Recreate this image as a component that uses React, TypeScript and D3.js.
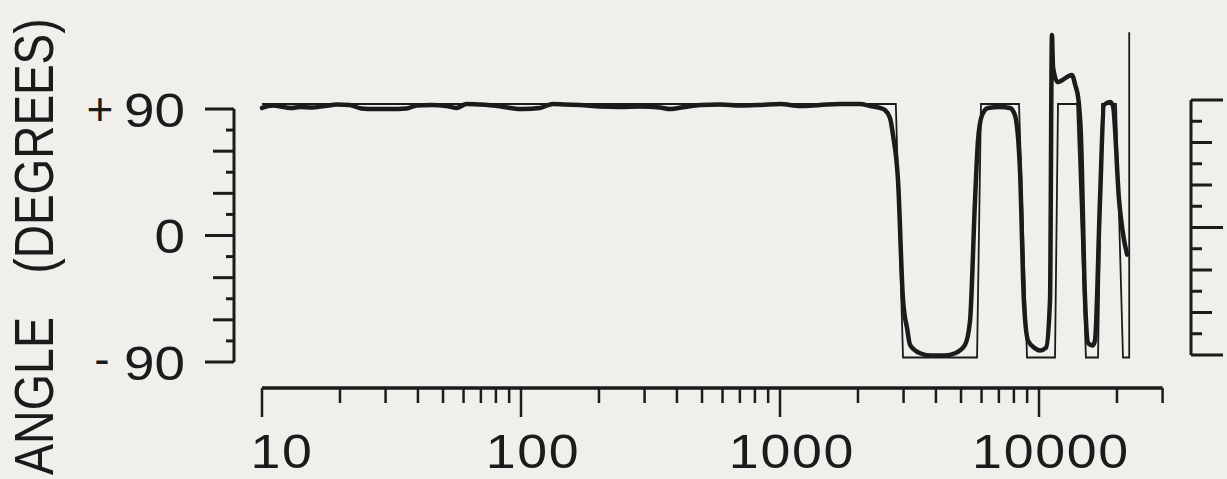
import React, { useEffect, useRef } from "react";
import * as d3 from "d3";

// measured phase response (frequency Hz, angle deg)
const measured: [number, number][] = [
  [10, 87.2], [11, 89], [13, 87.2], [14, 87.9], [15.6, 87.5], [17.5, 88.6],
  [19.5, 89.6], [21.8, 89.3], [24.2, 86.8], [27.2, 86.4], [31.1, 86.4],
  [36.1, 86.8], [39.5, 88.9], [45, 89.3], [51.5, 88.6], [56.3, 87.2],
  [61.6, 90], [69.5, 89.6], [81, 88.6], [91, 87.2], [102, 86.4], [118, 87.2],
  [133, 90], [148, 89.6], [169, 89.3], [202, 88.2], [241, 87.9], [288, 88.2],
  [344, 87.5], [376, 86.4], [430, 87.9], [491, 89.3], [587, 89.6], [701, 88.9],
  [837, 89.3], [1000, 90], [1195, 88.6], [1427, 89.3], [1705, 90], [2036, 90],
  [2225, 88.6], [2432, 87.2], [2543, 85.7], [2660, 80], [2731, 68], [2855, 36],
  [2985, -49], [3100, -70], [3177, -81], [3474, -87], [3796, -88.5],
  [4335, -88.5], [4740, -87], [5180, -81], [5416, -64], [5663, 22], [5814, 64],
  [6026, 82], [6355, 87.2], [7066, 87.9], [7723, 87.2], [8076, 82], [8445, 43],
  [8740, -49], [9071, -78], [9659, -83.5], [10096, -85], [10650, -83],
  [11030, -49], [11220, 139], [11330, 116], [11800, 105.6], [13400, 110.6],
  [13800, 103.5], [14200, 93], [14500, 70], [15060, -49], [15510, -80],
  [16100, -81.5], [16450, -78], [17200, 22], [17820, 89.3], [18800, 91.4],
  [19300, 88.6], [20370, 22], [21300, -6.7], [21900, -17],
];

// ideal (square) response
const ideal: [number, number][] = [
  [10, 90], [2800, 90], [2985, -90], [5765, -90], [5970, 90], [8370, 90],
  [8990, -90], [11530, -90], [11840, 90], [14030, 90], [15180, -90],
  [16900, -90], [17510, 90], [19830, 90], [21100, -90], [22300, -90],
  [22300, 141],
];

const freqLabels = [10, 100, 1000, 10000];
const freqTicks = [
  10, 20, 30, 40, 50, 60, 70, 80, 90, 100, 200, 300, 400, 500, 600, 700, 800,
  900, 1000, 2000, 3000, 4000, 5000, 6000, 7000, 8000, 9000, 10000, 20000, 30000,
];
const angleTicks = d3.range(-90, 91, 15);
const angleLabels = [
  { v: 90, sign: "+", t: "90" },
  { v: 0, sign: "", t: "0" },
  { v: -90, sign: "-", t: "90" },
];

const ink = "#1b1b1b";
const font = "'Liberation Sans', Arial, sans-serif";

const App = () => {
  const svgRef = useRef<SVGSVGElement | null>(null);

  useEffect(() => {
    const width = 1227;
    const height = 479;
    const svg = d3.select(svgRef.current).attr("width", width).attr("height", height);
    svg.selectAll("*").remove();

    svg.append("rect").attr("width", width).attr("height", height).attr("fill", "#f0efeb");

    const x = d3.scaleLog().domain([10, 30000]).range([262, 262 + 259 * Math.log10(3000)]);
    const y = d3.scaleLinear().domain([-90, 90]).range([357.5, 104]);
    const yLeft = d3.scaleLinear().domain([-90, 90]).range([362, 109]);
    const yRight = d3.scaleLinear().domain([-90, 90]).range([355, 100]);

    // x axis
    const axisY = 388;
    const gx = svg.append("g");
    gx.append("line")
      .attr("x1", x(10)).attr("x2", x(30000))
      .attr("y1", axisY).attr("y2", axisY)
      .attr("stroke", ink).attr("stroke-width", 3.5);
    gx.selectAll("line.tick")
      .data(freqTicks)
      .join("line")
      .attr("class", "tick")
      .attr("x1", (d) => x(d)).attr("x2", (d) => x(d))
      .attr("y1", axisY)
      .attr("y2", (d) => axisY + (freqLabels.includes(d) ? 29 : 15))
      .attr("stroke", ink).attr("stroke-width", 2.5);
    gx.selectAll("text")
      .data(freqLabels)
      .join("text")
      .attr("transform", (d) => `translate(${x(d) + (d === 10 ? 20 : 12)},468) scale(1.12,1)`)
      .attr("text-anchor", "middle")
      .attr("font-family", font)
      .attr("font-size", 48)
      .attr("letter-spacing", 1.5)
      .attr("fill", ink)
      .text((d) => String(d));

    // left axis
    const axL = 234;
    const gl = svg.append("g");
    gl.append("line")
      .attr("x1", axL).attr("x2", axL)
      .attr("y1", yLeft(90)).attr("y2", yLeft(-90))
      .attr("stroke", ink).attr("stroke-width", 3);
    gl.selectAll("line.tick")
      .data(angleTicks)
      .join("line")
      .attr("class", "tick")
      .attr("x1", axL)
      .attr("x2", (d) => axL - (d % 90 === 0 ? 29 : d % 30 === 0 ? 21 : 8))
      .attr("y1", (d) => yLeft(d)).attr("y2", (d) => yLeft(d))
      .attr("stroke", ink).attr("stroke-width", 3);
    gl.selectAll("text.num")
      .data(angleLabels)
      .join("text")
      .attr("class", "num")
      .attr("transform", (d) => `translate(185,${yLeft(d.v) + 17.5}) scale(1.12,1)`)
      .attr("text-anchor", "end")
      .attr("font-family", font)
      .attr("font-size", 49)
      .attr("fill", ink)
      .text((d) => d.t);
    gl.selectAll("text.sign")
      .data(angleLabels.filter((d) => d.sign))
      .join("text")
      .attr("class", "sign")
      .attr("x", (d) => (d.sign === "+" ? 100 : 102))
      .attr("y", (d) => yLeft(d.v) + (d.sign === "+" ? 16 : 12.5))
      .attr("text-anchor", "middle")
      .attr("font-family", font)
      .attr("font-size", 46)
      .attr("fill", ink)
      .text((d) => d.sign);

    // right axis
    const axR = 1191;
    const gr = svg.append("g");
    gr.append("line")
      .attr("x1", axR).attr("x2", axR)
      .attr("y1", yRight(90)).attr("y2", yRight(-90))
      .attr("stroke", ink).attr("stroke-width", 3);
    gr.selectAll("line.tick")
      .data(angleTicks)
      .join("line")
      .attr("class", "tick")
      .attr("x1", axR)
      .attr("x2", (d) => axR + (d % 90 === 0 ? 32 : d % 30 === 0 ? 21 : 11))
      .attr("y1", (d) => yRight(d)).attr("y2", (d) => yRight(d))
      .attr("stroke", ink).attr("stroke-width", 3);

    // axis title, two words with a wide gap
    const title = [
      { t: "ANGLE", cy: 396, len: 158 },
      { t: "(DEGREES)", cy: 146, len: 255 },
    ];
    svg.selectAll("text.title")
      .data(title)
      .join("text")
      .attr("class", "title")
      .attr("transform", (d) => `translate(53,${d.cy}) rotate(-90)`)
      .attr("text-anchor", "middle")
      .attr("font-family", font)
      .attr("font-size", 56)
      .attr("fill", ink)
      .attr("textLength", (d) => d.len)
      .attr("lengthAdjust", "spacingAndGlyphs")
      .text((d) => d.t);

    const line = d3
      .line<[number, number]>()
      .x((d) => x(d[0]))
      .y((d) => y(d[1]));

    svg.append("path")
      .datum(ideal)
      .attr("d", line)
      .attr("fill", "none")
      .attr("stroke", ink)
      .attr("stroke-width", 1.8);

    svg.append("path")
      .datum(measured)
      .attr("d", line.curve(d3.curveMonotoneX))
      .attr("fill", "none")
      .attr("stroke", ink)
      .attr("stroke-width", 4.5)
      .attr("stroke-linejoin", "round")
      .attr("stroke-linecap", "round");
  }, []);

  return (
    <div style={{ position: "absolute", left: 0, top: 0 }}>
      <svg ref={svgRef} style={{ display: "block" }}></svg>
    </div>
  );
};

export default App;
